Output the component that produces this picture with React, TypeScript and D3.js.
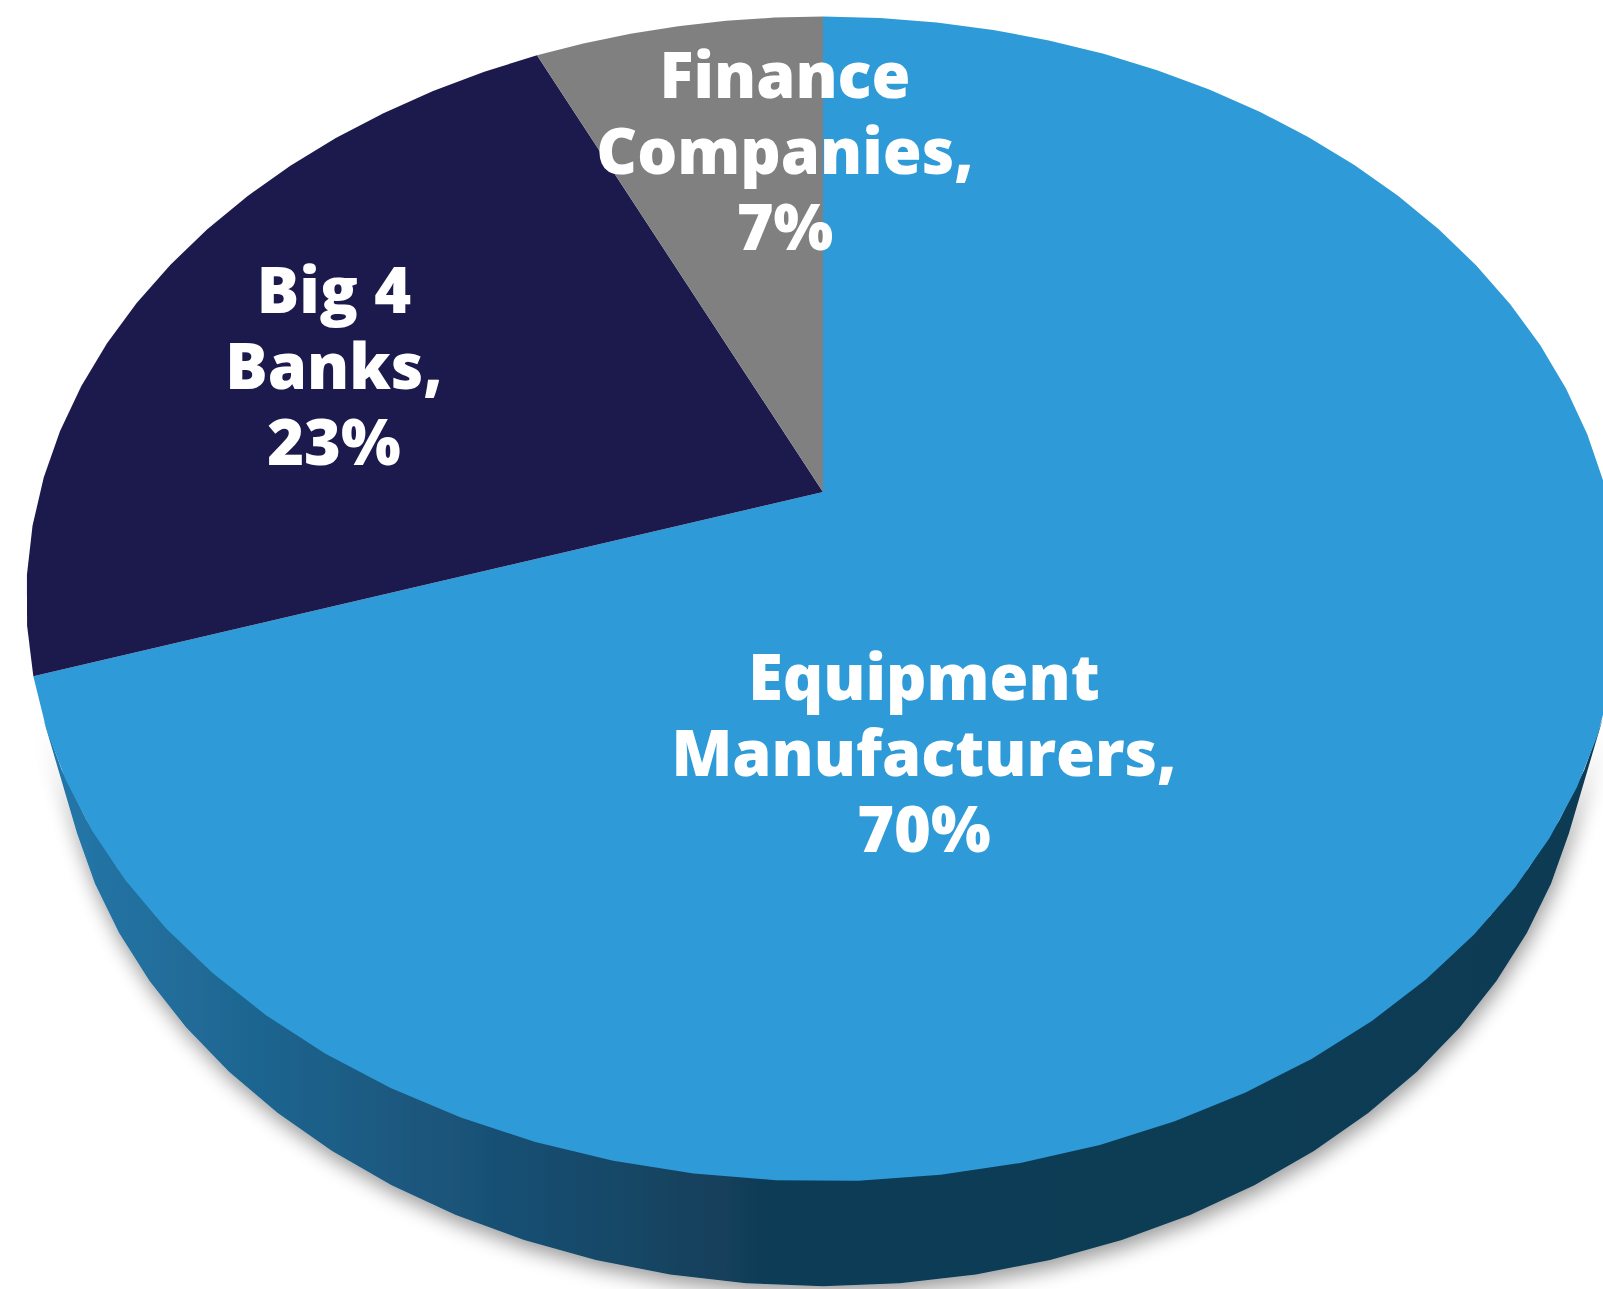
import React from "react";
import * as d3 from "d3";

// ---- data ----
const CATEGORIES = ["Equipment Manufacturers", "Big 4 Banks", "Finance Companies"];
const VALUES = [70, 23, 7];
const COLORS = ["#2E9BD8", "#1C1A4C", "#808080"];

// ---- layout (not data) ----
const W = 1603;
const H = 1289;
const CX = 823;
const CY = 492;
const FOCAL = 2969; // projection focal length (px)
const DIST = 3.7907; // camera distance in pie radii
const TILT = (45.93 * Math.PI) / 180;
const THICK = 0.2174; // thickness in pie radii
const LABEL_ANCHORS: [number, number][] = [
  [924, 700],
  [334, 313],
  [785, 98],
];
const LINE_GAP = 75.8;
const FONT_SIZE = 63;

const S = Math.sin(TILT);
const C = Math.cos(TILT);

function proj(a: number, r: number, w: number): [number, number] {
  const u = r * Math.cos(a);
  const v = r * Math.sin(a);
  const yc = v * S - w * C;
  const z = DIST - v * C - w * S;
  return [CX + (FOCAL * u) / z, CY + (FOCAL * yc) / z];
}

function arcPoints(a0: number, a1: number, w: number, step = Math.PI / 36): [number, number][] {
  const pts: [number, number][] = [];
  const n = Math.max(1, Math.ceil(Math.abs(a1 - a0) / step - 1e-9));
  for (let i = 0; i <= n; i++) {
    pts.push(proj(a0 + ((a1 - a0) * i) / n, 1, w));
  }
  return pts;
}

const line = d3.line<[number, number]>();

export default function App() {
  const pie = d3
    .pie<number>()
    .sort(null)
    .value((d) => d)(VALUES);

  // convert d3 pie angles (0 at 12 o'clock, clockwise) to plane angle
  const toPlane = (ang: number) => ang - Math.PI / 2;

  const limb = Math.asin(1 / (DIST * C));
  const vis0 = limb;
  const vis1 = Math.PI - limb;

  const tops = pie.map((p, i) => {
    const a0 = toPlane(p.startAngle);
    const a1 = toPlane(p.endAngle);
    const pts: [number, number][] = [proj(0, 0, 0), ...arcPoints(a0, a1, 0)];
    return { d: line(pts) + "Z", fill: COLORS[i] };
  });

  const sides = pie
    .map((p, i) => {
      const a0 = Math.max(toPlane(p.startAngle), vis0);
      const a1 = Math.min(toPlane(p.endAngle), vis1);
      if (a1 <= a0) return null;
      const topPts = arcPoints(a0, a1, 0.004, Math.PI / 36);
      const botPts = arcPoints(a1, a0, -THICK, Math.PI / 36);
      return { d: line([...topPts, ...botPts]) + "Z", i };
    })
    .filter(Boolean) as { d: string; i: number }[];

  const sideFill = (i: number) =>
    i === 0 ? "url(#sideGrad)" : d3.color(COLORS[i])!.darker(1.2).formatHex();

  return (
    <svg
      width={W}
      height={H}
      style={{ position: "absolute", left: 0, top: 0, background: "#ffffff" }}
    >
      <defs>
        <linearGradient id="sideGrad" gradientUnits="userSpaceOnUse" x1={30} y1={0} x2={1600} y2={0}>
          <stop offset="0" stopColor="#2479AB" />
          <stop offset="0.267" stopColor="#1A5479" />
          <stop offset="0.465" stopColor="#113D57" />
          <stop offset="1" stopColor="#103B53" />
        </linearGradient>
        <filter id="shadow" x="-10%" y="-20%" width="120%" height="160%">
          <feGaussianBlur in="SourceAlpha" stdDeviation="10" />
          <feOffset dx="2" dy="8" result="b" />
          <feComponentTransfer>
            <feFuncA type="linear" slope="0.4" />
          </feComponentTransfer>
          <feMerge>
            <feMergeNode />
            <feMergeNode in="SourceGraphic" />
          </feMerge>
        </filter>
      </defs>
      <g filter="url(#shadow)">
        {sides.map((s) => (
          <path key={"s" + s.i} d={s.d} fill={sideFill(s.i)} />
        ))}
      </g>
      <g>
        {tops.map((t, i) => (
          <path key={"t" + i} d={t.d} fill={t.fill} />
        ))}
      </g>
      <g
        fontFamily="'Open Sans', sans-serif"
        fontWeight={800}
        fontSize={FONT_SIZE}
        fill="#ffffff"
        textAnchor="middle"
      >
        {CATEGORIES.map((name, i) => {
          const words = name.split(" ");
          const lines = [
            words.slice(0, -1).join(" "),
            words[words.length - 1] + ",",
            `${VALUES[i]}%`,
          ];
          const [x, y] = LABEL_ANCHORS[i];
          return (
            <text key={"l" + i}>
              {lines.map((ln, j) => (
                <tspan key={j} x={x} y={y + j * LINE_GAP}>
                  {ln}
                </tspan>
              ))}
            </text>
          );
        })}
      </g>
    </svg>
  );
}
